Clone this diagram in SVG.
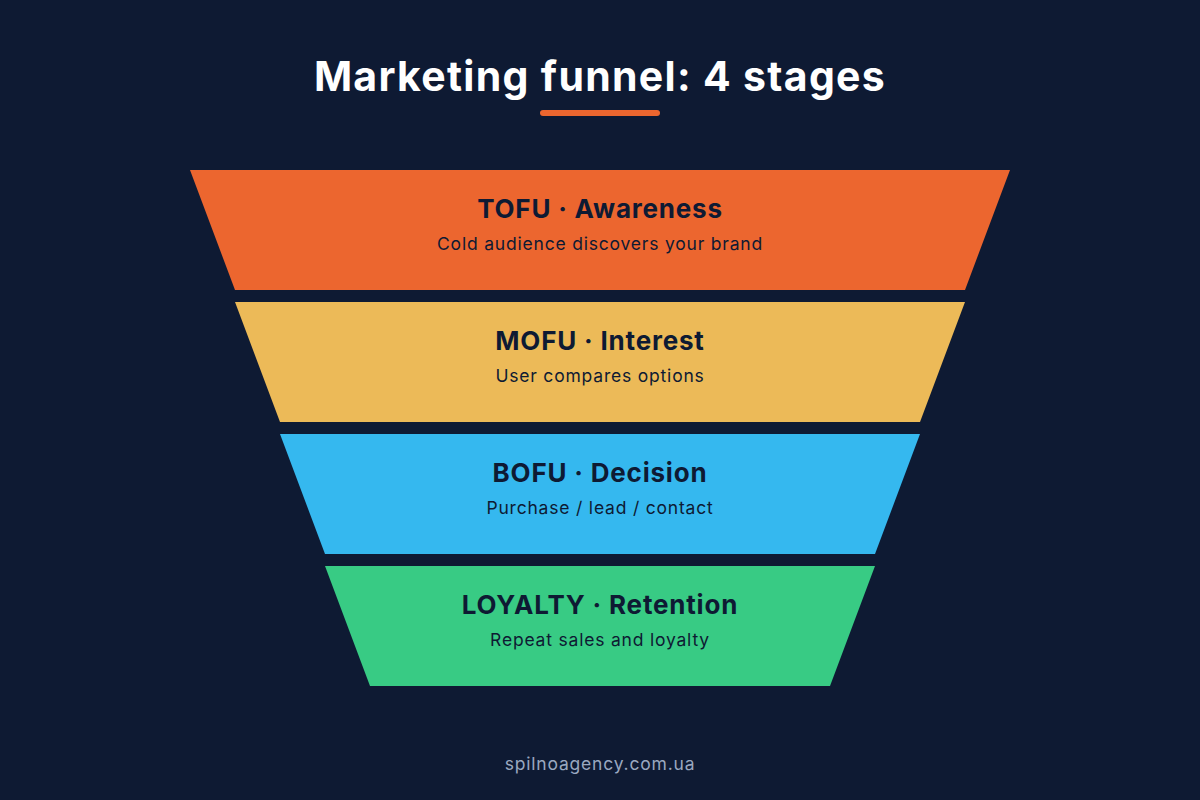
<svg xmlns="http://www.w3.org/2000/svg" width="1200" height="800" viewBox="0 0 1200 800">
<style>
.h{font-family:Inter,"Noto Sans",sans-serif;font-weight:700;font-size:26px;letter-spacing:0.8px;fill:#0E1A33;text-anchor:middle}
.s{font-family:Inter,"Noto Sans",sans-serif;font-size:17.5px;letter-spacing:0.8px;fill:#0E1A33;text-anchor:middle}
</style>
<rect width="1200" height="800" fill="#0E1A33"/>
<text x="600" y="91" text-anchor="middle" font-family="Inter,'Noto Sans',sans-serif" font-weight="700" font-size="41" letter-spacing="1.3" fill="#FFFFFF">Marketing funnel: 4 stages</text>
<rect x="540" y="110" width="120" height="6" rx="3" fill="#EC662F"/>
<g id="tofu"><polygon points="190,170 1010,170 965,290 235,290" fill="#EC662F"/><text class="h" x="600" y="218">TOFU · Awareness</text><text class="s" x="600" y="250">Cold audience discovers your brand</text></g>
<g id="mofu"><polygon points="235,302 965,302 920,422 280,422" fill="#ECBA58"/><text class="h" x="600" y="350">MOFU · Interest</text><text class="s" x="600" y="382">User compares options</text></g>
<g id="bofu"><polygon points="280,434 920,434 875,554 325,554" fill="#35B8EF"/><text class="h" x="600" y="482">BOFU · Decision</text><text class="s" x="600" y="514">Purchase / lead / contact</text></g>
<g id="loyalty"><polygon points="325,566 875,566 830,686 370,686" fill="#38CB84"/><text class="h" x="600" y="614">LOYALTY · Retention</text><text class="s" x="600" y="646">Repeat sales and loyalty</text></g>
<g id="connectors"/>
<text x="600" y="770" text-anchor="middle" font-family="Inter,'Noto Sans',sans-serif" font-size="17.5" letter-spacing="0.8" fill="#9AA8C0">spilnoagency.com.ua</text>
</svg>
